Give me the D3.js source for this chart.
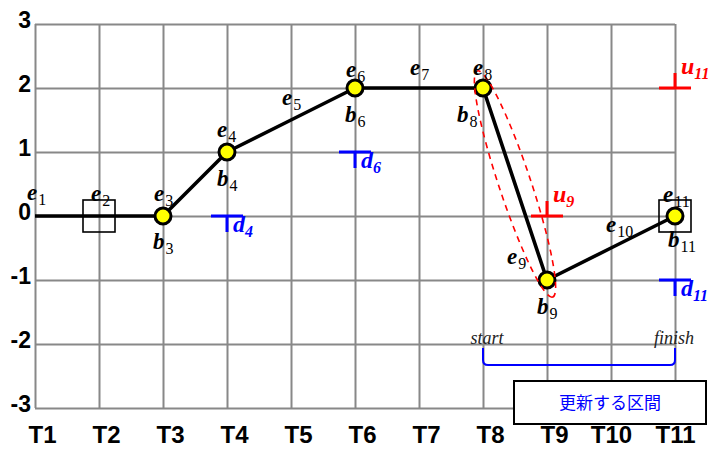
<!DOCTYPE html>
<html><head><meta charset="utf-8">
<script src="https://cdn.jsdelivr.net/npm/d3@7"></script>
<style>
body{margin:0;background:#fff;}
svg{display:block;}
</style></head>
<body>
<svg id="chart" width="708" height="452"></svg>
<script>
// ---- data ----
const categories = ["T1","T2","T3","T4","T5","T6","T7","T8","T9","T10","T11"];
const values = [0, 0, 0, 1, 1.5, 2, 2, 2, -1, -0.5, 0];
const yTicks = [-3, -2, -1, 0, 1, 2, 3];
const circleCats = ["T3","T4","T6","T8","T9","T11"];
const squareCats = ["T2","T11"];
const dCats = ["T4","T6","T11"];
const dValues = [0, 1, -1];
const uCats = ["T9","T11"];
const uValues = [0, 2];
const eLabelCats = ["T1","T2","T3","T4","T5","T6","T7","T8","T9","T10","T11"];
const eLabelSubs = ["1","2","3","4","5","6","7","8","9","10","11"];
const bLabelCats = ["T3","T4","T6","T8","T9","T11"];
const bLabelSubs = ["3","4","6","8","9","11"];
const rangeStart = "T8", rangeEnd = "T11";
const rangeTexts = ["start","finish"];
const boxText = "更新する区間";
const ellipseCats = ["T8","T9"];

(function(){
// ---- layout (annotation offsets, px) ----
const eOff = [[-8,-16],[-8,-15],[-9,-15],[-10,-15],[-9,-15],[-9,-11],[-9,-13],[-10,-13],[-40,-16],[-5,-16],[-12,-14]];
const bOff = [[-10,33],[-10,34],[-10,34],[-26,34],[-10,34],[-7,31]];

const svg = d3.select("#chart");
const pL = 35, pR = 675, pT = 24, pB = 408;

const x = d3.scalePoint().domain(categories).range([pL, pR]);
const y = d3.scaleLinear().domain([-3, 3]).range([pB, pT]);

// grid via axes
const gY = svg.append("g").attr("transform", `translate(${pL},0)`)
  .call(d3.axisLeft(y).tickValues(yTicks).tickSize(-(pR-pL)).tickPadding(4).tickFormat(d => String(d)));
gY.select(".domain").remove();
gY.selectAll(".tick line").attr("stroke", "#888").attr("stroke-width", 2);
gY.selectAll(".tick text").attr("font-family", "Arial, 'Liberation Sans', sans-serif")
  .attr("font-weight", "bold").attr("font-size", 23).attr("fill", "#000")
  .attr("dy", "0.32em").attr("y", -4);

const gX = svg.append("g").attr("transform", `translate(0,${pB})`)
  .call(d3.axisBottom(x).tickSize(-(pB-pT)).tickPadding(0));
gX.select(".domain").remove();
gX.selectAll(".tick line").attr("stroke", "#888").attr("stroke-width", 2);
gX.selectAll(".tick text").attr("font-family", "Arial, 'Liberation Sans', sans-serif")
  .attr("font-weight", "bold").attr("font-size", 24).attr("fill", "#000")
  .attr("dy", 0).attr("y", 35)
  .attr("x", d => d.length === 2 ? 7 : 0);

// main polyline
const pts = categories.map((c, i) => [x(c), y(values[i])]);
svg.append("path").attr("d", d3.line()(pts))
  .attr("fill", "none").attr("stroke", "#000").attr("stroke-width", 3.6).attr("stroke-linejoin", "round");

const valOf = c => values[categories.indexOf(c)];

// squares
svg.selectAll("rect.sq").data(squareCats).join("rect").attr("class", "sq")
  .attr("x", c => x(c) - 16).attr("y", c => y(valOf(c)) - 16)
  .attr("width", 32).attr("height", 32)
  .attr("fill", "none").attr("stroke", "#000").attr("stroke-width", 1.6);

// circles
svg.selectAll("circle.pt").data(circleCats).join("circle").attr("class", "pt")
  .attr("cx", c => x(c)).attr("cy", c => y(valOf(c))).attr("r", 8)
  .attr("fill", "#ffff00").attr("stroke", "#000").attr("stroke-width", 3);

// ellipse around segment
{
  const [a, b] = ellipseCats;
  const x1 = x(a), y1 = y(valOf(a)), x2 = x(b), y2 = y(valOf(b));
  const cx = (x1 + x2) / 2, cy = (y1 + y2) / 2;
  const ang = Math.atan2(y2 - y1, x2 - x1) * 180 / Math.PI;
  const len = Math.hypot(x2 - x1, y2 - y1);
  svg.append("ellipse").attr("cx", 0).attr("cy", 0)
    .attr("rx", len / 2 + 18).attr("ry", 16)
    .attr("transform", `translate(${cx},${cy}) rotate(${ang})`)
    .attr("fill", "none").attr("stroke", "#ff0000").attr("stroke-width", 1.6)
    .attr("stroke-dasharray", "6,5");
}

// d markers (blue T)
dCats.forEach((c, i) => {
  const px = x(c), py = y(dValues[i]);
  const g = svg.append("g");
  g.append("line").attr("x1", px - 16).attr("x2", px + 16).attr("y1", py).attr("y2", py)
    .attr("stroke", "#0000ff").attr("stroke-width", 3);
  g.append("line").attr("x1", px).attr("x2", px).attr("y1", py).attr("y2", py + 16)
    .attr("stroke", "#0000ff").attr("stroke-width", 3);
  const t = g.append("text").attr("x", px + 6).attr("y", py + 16)
    .attr("font-family", "'Times New Roman', 'Liberation Serif', serif")
    .attr("font-style", "italic").attr("font-weight", "bold").attr("fill", "#0000ff");
  t.append("tspan").attr("font-size", 24).text("d");
  t.append("tspan").attr("font-size", 16).attr("dy", 5).text(dCats[i].slice(1));
});

// u markers (red inverted T)
uCats.forEach((c, i) => {
  const px = x(c), py = y(uValues[i]);
  const g = svg.append("g");
  g.append("line").attr("x1", px - 16).attr("x2", px + 16).attr("y1", py).attr("y2", py)
    .attr("stroke", "#ff0000").attr("stroke-width", 3);
  g.append("line").attr("x1", px).attr("x2", px).attr("y1", py).attr("y2", py - 15)
    .attr("stroke", "#ff0000").attr("stroke-width", 3);
  const t = g.append("text").attr("x", px + 6).attr("y", py - 14)
    .attr("font-family", "'Times New Roman', 'Liberation Serif', serif")
    .attr("font-style", "italic").attr("font-weight", "bold").attr("fill", "#ff0000");
  t.append("tspan").attr("font-size", 24).text("u");
  t.append("tspan").attr("font-size", 16).attr("dy", 5).text(uCats[i].slice(1));
});

// e / b labels
function label(px, py, letter, sub) {
  const t = svg.append("text").attr("x", px).attr("y", py)
    .attr("font-family", "'Times New Roman', 'Liberation Serif', serif")
    .attr("font-style", "italic").attr("font-weight", "bold").attr("fill", "#000");
  t.append("tspan").attr("font-size", 23).text(letter);
  t.append("tspan").attr("font-size", 16).attr("font-style", "normal").attr("font-weight", "normal")
    .attr("dy", 5).attr("dx", 1).text(sub);
}
eLabelCats.forEach((c, i) => label(x(c) + eOff[i][0], y(valOf(c)) + eOff[i][1], "e", eLabelSubs[i]));
bLabelCats.forEach((c, i) => label(x(c) + bOff[i][0], y(valOf(c)) + bOff[i][1], "b", bLabelSubs[i]));

// range bracket
{
  const xs = x(rangeStart), xe = x(rangeEnd);
  const yT = y(-2) + 4, yB = y(-2) + 21, r = 5;
  const p = d3.path();
  p.moveTo(xs, yT); p.lineTo(xs, yB - r); p.quadraticCurveTo(xs, yB, xs + r, yB);
  p.lineTo(xe - r, yB); p.quadraticCurveTo(xe, yB, xe, yB - r); p.lineTo(xe, yT);
  svg.append("path").attr("d", p.toString()).attr("fill", "none")
    .attr("stroke", "#0000ff").attr("stroke-width", 2);
  svg.selectAll("text.rng").data(rangeTexts).join("text").attr("class", "rng")
    .attr("x", (d, i) => (i === 0 ? xs + 4 : xe - 1)).attr("y", y(-2))
    .attr("text-anchor", "middle")
    .attr("font-family", "'Times New Roman', 'Liberation Serif', serif")
    .attr("font-style", "italic").attr("font-size", 18).attr("fill", "#222").text(d => d);
}

// box
svg.append("rect").attr("x", 514).attr("y", 381).attr("width", 192).attr("height", 43)
  .attr("fill", "#fff").attr("stroke", "#000").attr("stroke-width", 2);
svg.append("text").attr("x", 610).attr("y", 409).attr("text-anchor", "middle")
  .attr("font-family", "'Noto Sans CJK JP', sans-serif").attr("font-size", 17)
  .attr("fill", "#0000ff").text(boxText);
})();
</script>
</body></html>
